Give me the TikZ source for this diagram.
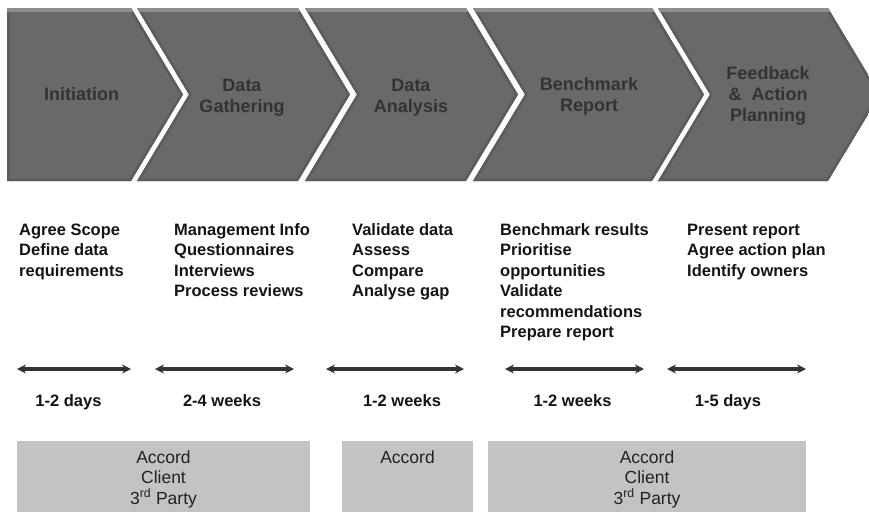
\documentclass[tikz,border=0pt]{standalone}
\usepackage{fontspec}
\setmainfont{Liberation Sans}
\usetikzlibrary{arrows.meta}
\definecolor{chevfill}{HTML}{696969}
\definecolor{chevedge}{HTML}{5C5C5C}
\definecolor{chevlight}{HTML}{8E8E8E}
\definecolor{chevtext}{HTML}{333333}
\definecolor{bodytext}{HTML}{141414}
\definecolor{boxfill}{HTML}{C3C3C3}
\definecolor{boxtext}{HTML}{222222}
\definecolor{arrowcol}{HTML}{333333}

% #1 = left x, #2 = right x (top corners), #3 = notch depth on the left (0 = flat)
\newcommand\mychev[3]{%
  \begin{scope}
    \clip (#1,8) -- (#2,8) -- (#2+52,94.5) -- (#2,181) -- (#1,181) -- (#1+#3,94.5) -- cycle;
    \fill[chevfill] (#1-5,0) rectangle (#2+60,190);
    \draw[chevedge, line width=5pt, line join=miter]
      (#1,8) -- (#2,8) -- (#2+52,94.5) -- (#2,181) -- (#1,181) -- (#1+#3,94.5) -- cycle;
    \fill[chevlight] (#1-5,8) rectangle (#2+60,11.5);
  \end{scope}}

\tikzset{
  phase/.style={font=\fontsize{18}{21}\selectfont\bfseries, text=chevtext, align=center, inner sep=0pt},
  tasks/.style={font=\fontsize{16.5}{20.5}\selectfont\bfseries, text=bodytext, align=left, inner sep=0pt, anchor=north west},
  dur/.style={font=\fontsize{16.5}{20}\selectfont\bfseries, text=bodytext, inner sep=0pt, anchor=base},
  span/.style={{Stealth[length=9pt,width=9pt]}-{Stealth[length=9pt,width=9pt]}, line width=3.5pt, draw=arrowcol},
  rolebox/.style={fill=boxfill, draw=none, inner sep=0pt, anchor=north west, minimum height=71pt},
  roles/.style={font=\fontsize{17.5}{20.5}\selectfont, text=boxtext, align=center, inner sep=0pt, anchor=north},
}

\begin{document}
\begin{tikzpicture}[x=1pt, y=-1pt]
  \useasboundingbox (0,0) rectangle (869,512);

  % chevrons
  \mychev{7}{131}{0}
  \mychev{137}{298}{52}
  \mychev{305}{466}{52}
  \mychev{473}{652}{52}
  \mychev{658}{828}{52}

  % phase labels
  \node[phase] (p1) at (81.5,94) {Initiation};
  \node[phase] (p2) at (242,97.5) {Data\\Gathering};
  \node[phase] (p3) at (411,97.5) {Data\\Analysis};
  \node[phase] (p4) at (589,96) {Benchmark\\Report};
  \node[phase] (p5) at (768,96) {Feedback\\\&~~Action\\Planning};

  % task lists
  \node[tasks] (t1) at (19,223) {\rule{0pt}{12pt}Agree Scope\\Define data\\requirements};
  \node[tasks] (t2) at (174,223) {\rule{0pt}{12pt}Management Info\\Questionnaires\\Interviews\\Process reviews};
  \node[tasks] (t3) at (352,223) {\rule{0pt}{12pt}Validate data\\Assess\\Compare\\Analyse gap};
  \node[tasks] (t4) at (500,223) {\rule{0pt}{12pt}Benchmark results\\Prioritise\\opportunities\\Validate\\recommendations\\Prepare report};
  \node[tasks] (t5) at (687,223) {\rule{0pt}{12pt}Present report\\Agree action plan\\Identify owners};

  % duration arrows
  \coordinate (a1l) at (17,369);  \coordinate (a1r) at (131,369);
  \coordinate (a2l) at (155,369); \coordinate (a2r) at (294,369);
  \coordinate (a3l) at (326,369); \coordinate (a3r) at (464,369);
  \coordinate (a4l) at (505,369); \coordinate (a4r) at (644,369);
  \coordinate (a5l) at (667,369); \coordinate (a5r) at (806,369);
  \draw[span] (a1l) -- (a1r);
  \draw[span] (a2l) -- (a2r);
  \draw[span] (a3l) -- (a3r);
  \draw[span] (a4l) -- (a4r);
  \draw[span] (a5l) -- (a5r);

  % durations
  \node[dur] (d1) at (68.5,406) {1-2 days};
  \node[dur] (d2) at (222,406) {2-4 weeks};
  \node[dur] (d3) at (402,406) {1-2 weeks};
  \node[dur] (d4) at (572.5,406) {1-2 weeks};
  \node[dur] (d5) at (728,406) {1-5 days};

  % role boxes
  \node[rolebox, minimum width=293pt] (b1) at (17,441) {};
  \node[rolebox, minimum width=131pt] (b2) at (342,441) {};
  \node[rolebox, minimum width=318pt] (b3) at (488,441) {};
  \node[roles] (r1) at (163.5,450) {\rule{0pt}{13pt}Accord\\Client\\3\textsuperscript{rd} Party};
  \node[roles] (r2) at (407.5,450) {\rule{0pt}{13pt}Accord};
  \node[roles] (r3) at (647,450) {\rule{0pt}{13pt}Accord\\Client\\3\textsuperscript{rd} Party};
\end{tikzpicture}
\end{document}
